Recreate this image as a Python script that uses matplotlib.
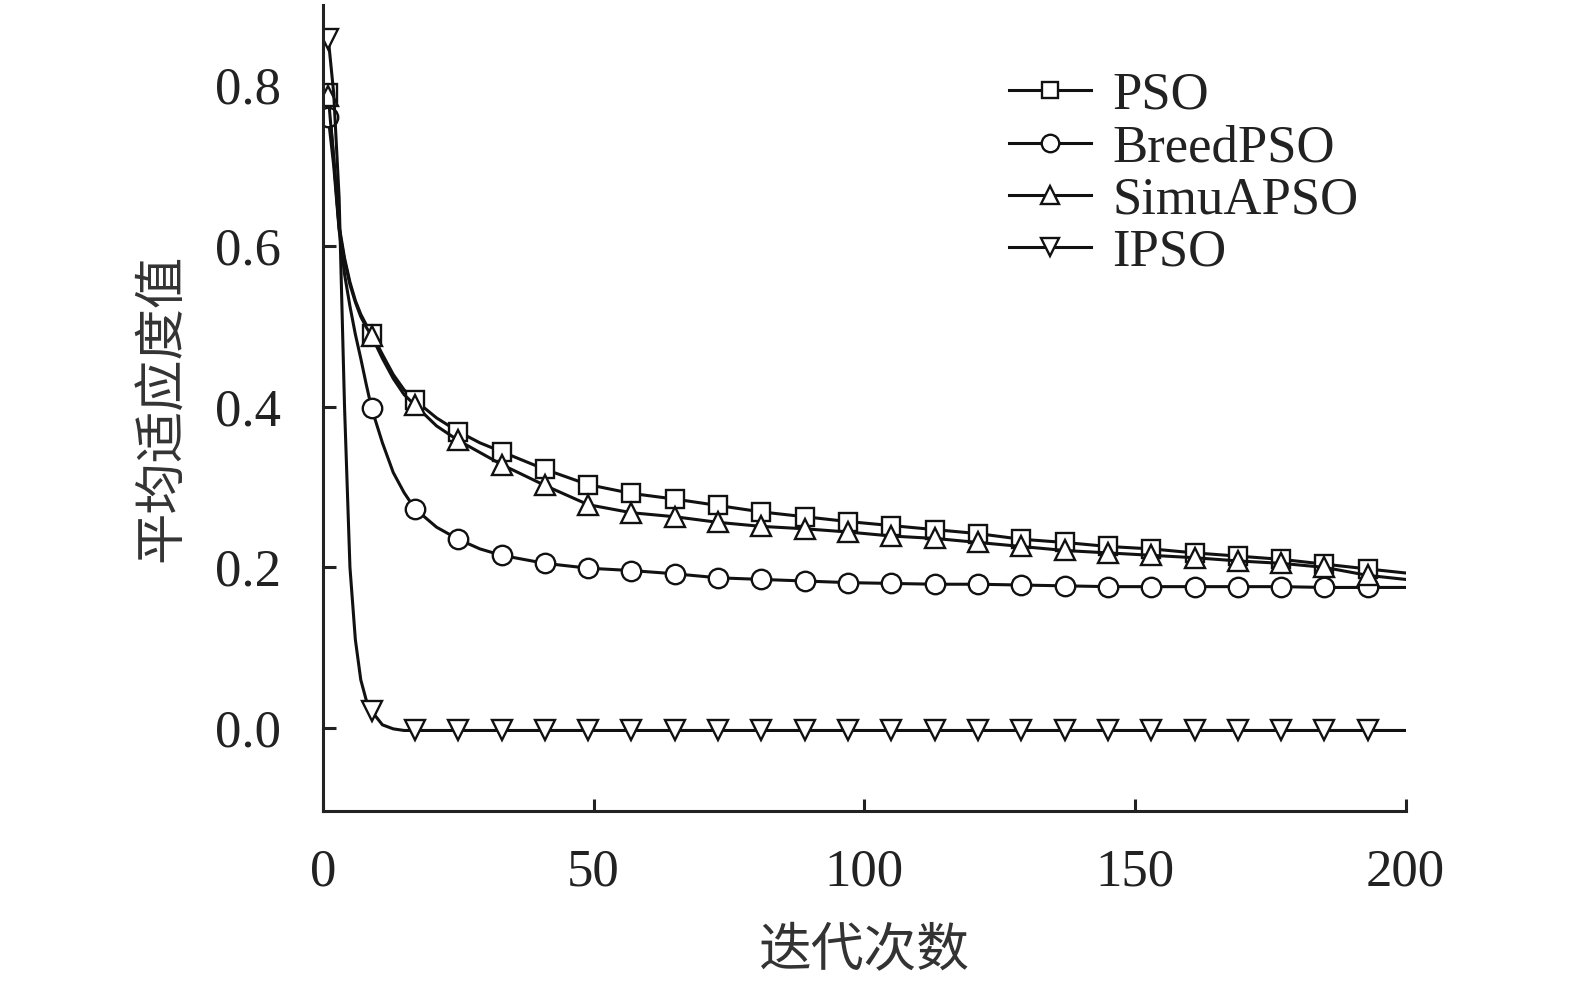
import matplotlib
matplotlib.use('Agg')
import matplotlib.pyplot as plt


#Итерации (точки кривых)
iters = [1, 2, 3, 4, 5, 6, 7, 8, 9, 11, 13, 15, 17, 21, 25, 29, 33,
         41, 49, 57, 65, 73, 81, 89, 97, 105, 113, 121, 129, 137, 145,
         153, 161, 169, 177, 185, 193, 200]

pso = [0.790, 0.710, 0.625, 0.585, 0.555, 0.532, 0.515, 0.502, 0.491,
       0.465, 0.440, 0.421, 0.408, 0.386, 0.369, 0.355, 0.344,
       0.322, 0.303, 0.292, 0.285, 0.277, 0.269, 0.263, 0.257, 0.252,
       0.247, 0.242, 0.235, 0.231, 0.226, 0.223, 0.218, 0.214, 0.210,
       0.204, 0.198, 0.193]

breed = [0.760, 0.700, 0.620, 0.565, 0.525, 0.490, 0.460, 0.428, 0.398,
         0.355, 0.318, 0.293, 0.273, 0.250, 0.235, 0.223, 0.215,
         0.205, 0.199, 0.196, 0.192, 0.187, 0.185, 0.183, 0.181, 0.180,
         0.179, 0.179, 0.178, 0.177, 0.176, 0.176, 0.176, 0.176, 0.176,
         0.175, 0.175, 0.175]

simu = [0.787, 0.708, 0.622, 0.582, 0.552, 0.530, 0.512, 0.499, 0.488,
        0.460, 0.435, 0.415, 0.402, 0.376, 0.358, 0.343, 0.328,
        0.302, 0.278, 0.268, 0.263, 0.256, 0.251, 0.248, 0.244, 0.239,
        0.236, 0.231, 0.226, 0.221, 0.218, 0.215, 0.212, 0.208, 0.205,
        0.200, 0.190, 0.185]

ipso = [0.858, 0.790, 0.660, 0.400, 0.200, 0.110, 0.060, 0.035, 0.021,
        0.004, -0.001, -0.003, -0.003, -0.003, -0.003, -0.003, -0.003,
        -0.003, -0.003, -0.003, -0.003, -0.003, -0.003, -0.003, -0.003,
        -0.003, -0.003, -0.003, -0.003, -0.003, -0.003, -0.003, -0.003,
        -0.003, -0.003, -0.003, -0.003, -0.003]

names = ['PSO', 'BreedPSO', 'SimuAPSO', 'IPSO']
x_ticks = [0, 50, 100, 150, 200]
y_ticks = [0.0, 0.2, 0.4, 0.6, 0.8]

x_label = '迭代次数'
y_label = '平均适应度值'


def main():
    plt.rcParams['font.family'] = ['Liberation Serif', 'Noto Sans CJK SC']
    plt.rcParams['font.size'] = 38

    fig = plt.figure(figsize=(15.75, 9.84), dpi=100)
    ax = fig.add_axes([0.205, 0.176, 0.6875, 0.819])

    #маркеры через каждые 8 итераций
    marks = [i for i, v in enumerate(iters) if (v - 1) % 8 == 0 and v <= 193]

    series = [pso, breed, simu, ipso]
    shapes = ['s', 'o', '^', 'v']
    sizes = [13, 14, 15, 15]
    for ys, m, ms, name in zip(series, shapes, sizes, names):
        ax.plot(iters, ys, color='#111111', lw=2.2, marker=m, ms=ms,
                markevery=marks, mfc='white', mec='#111111', mew=1.7,
                label=name)

    ax.set_xlim(0, 200)
    ax.set_ylim(-0.103, 0.9)
    ax.set_xticks(x_ticks)
    ax.set_yticks(y_ticks)
    ax.set_yticklabels([f'{v:.1f}' for v in y_ticks])

    for side in ['top', 'right']:
        ax.spines[side].set_visible(False)
    for side in ['left', 'bottom']:
        ax.spines[side].set_linewidth(2.2)
        ax.spines[side].set_color('#222222')

    ax.tick_params(direction='in', length=9, width=2.2, colors='#222222',
                   labelcolor='#222222', labelsize=38)
    ax.tick_params(axis='y', pad=30)
    ax.tick_params(axis='x', pad=27)

    ax.set_xlabel(x_label, fontsize=38, color='#333333', labelpad=23)
    ax.set_ylabel(y_label, fontsize=37, color='#333333', labelpad=20)

    leg = ax.legend(loc='upper left', bbox_to_anchor=(0.634, 0.917),
                    frameon=False, borderpad=0, borderaxespad=0,
                    handlelength=1.55, handletextpad=0.4, labelspacing=0.08,
                    markerscale=0.9, fontsize=38)
    for t in leg.get_texts():
        t.set_color('#222222')

    fig.savefig('out.png', dpi=100)


if __name__ == '__main__':
    main()
